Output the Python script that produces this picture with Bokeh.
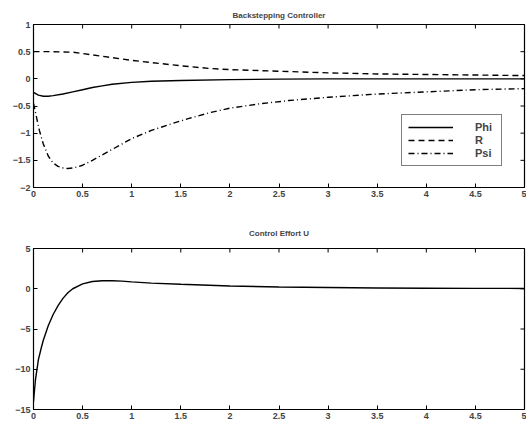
import math
from bokeh.plotting import figure
from bokeh.models import Legend, LegendItem, Range1d
from bokeh.layouts import column
from bokeh.embed import file_html
from bokeh.resources import INLINE

# ---- data ----
t_phi = [0, 0.05, 0.1, 0.15, 0.2, 0.3, 0.4, 0.5, 0.6, 0.7, 0.8, 1.0, 1.2, 1.5, 2.0, 2.5, 3.0, 4.0, 5.0]
phi = [-0.25, -0.3, -0.32, -0.32, -0.31, -0.28, -0.24, -0.2, -0.16, -0.13, -0.1, -0.065, -0.045, -0.03, -0.015, -0.005, 0.0, 0.0, 0.0]

t_r = [0, 0.2, 0.4, 0.6, 0.8, 1.0, 1.2, 1.5, 1.8, 2.0, 2.5, 3.0, 3.5, 4.0, 4.5, 5.0]
r = [0.5, 0.5, 0.49, 0.44, 0.39, 0.34, 0.3, 0.24, 0.19, 0.17, 0.14, 0.11, 0.09, 0.08, 0.07, 0.06]

t_psi = [0, 0.03, 0.06, 0.1, 0.15, 0.2, 0.25, 0.3, 0.35, 0.4, 0.45, 0.5, 0.6, 0.7, 0.8, 0.9,
         1.0, 1.2, 1.4, 1.6, 1.8, 2.0, 2.3, 2.6, 3.0, 3.5, 4.0, 4.5, 5.0]
psi = [-0.45, -0.7, -0.95, -1.2, -1.42, -1.55, -1.61, -1.64, -1.65, -1.64, -1.62, -1.59, -1.5, -1.4,
       -1.3, -1.2, -1.1, -0.95, -0.83, -0.72, -0.62, -0.54, -0.46, -0.4, -0.34, -0.28, -0.24, -0.2, -0.18]

t_u = [0, 0.02, 0.05, 0.08, 0.1, 0.15, 0.2, 0.25, 0.3, 0.35, 0.4, 0.5, 0.6, 0.7, 0.8, 0.9,
       1.0, 1.2, 1.5, 2.0, 2.5, 3.0, 3.5, 4.0, 4.5, 5.0]
u = [-14, -11.3, -8.8, -7.3, -6.4, -4.6, -3.2, -2.1, -1.2, -0.5, 0.0, 0.6, 0.9, 1.0, 1.0, 0.95,
     0.85, 0.7, 0.55, 0.35, 0.22, 0.15, 0.1, 0.07, 0.05, 0.04]

x_ticks = [0, 0.5, 1, 1.5, 2, 2.5, 3, 3.5, 4, 4.5, 5]
y1_ticks = [-2, -1.5, -1, -0.5, 0, 0.5, 1]
y2_ticks = [-15, -10, -5, 0, 5]

FONT = "Liberation Sans"


def style(p, yticks, x1, y1, title_standoff):
    p.xaxis.ticker = x_ticks
    p.yaxis.ticker = yticks
    for ax in p.axis:
        ax.major_tick_in = 4
        ax.major_tick_out = 0
        ax.minor_tick_in = 0
        ax.minor_tick_out = 0
        ax.axis_line_color = None
        ax.major_tick_line_color = "black"
        ax.major_label_text_font = FONT
        ax.major_label_text_font_style = "bold"
        ax.major_label_text_font_size = "9px"
        ax.major_label_standoff = 3
    # mirrored inward ticks on the top and right edges
    p.ray(x=x_ticks, y=[y1] * len(x_ticks), length=4, length_units="screen",
          angle=-math.pi / 2, line_color="black", line_width=1)
    p.ray(x=[x1] * len(yticks), y=yticks, length=4, length_units="screen",
          angle=math.pi, line_color="black", line_width=1)
    p.xgrid.visible = False
    p.ygrid.visible = False
    p.outline_line_color = "black"
    p.outline_line_width = 1.2
    p.title.text_font = FONT
    p.title.text_font_style = "bold"
    p.title.text_font_size = "8px"
    p.title.align = "center"
    p.title.offset = 0
    p.title.standoff = title_standoff
    p.background_fill_color = "white"
    p.border_fill_color = "white"


p1 = figure(width=526, height=212, output_backend="svg", toolbar_location=None,
            x_range=Range1d(0, 5), y_range=Range1d(-2, 1),
            title="Backstepping Controller",
            min_border_left=33, min_border_right=2, min_border_top=24, min_border_bottom=25)
style(p1, y1_ticks, 5, 1, 10)
l_phi = p1.line(t_phi, phi, line_color="black", line_width=1.4)
l_r = p1.line(t_r, r, line_color="black", line_width=1.4, line_dash="6 4")
l_psi = p1.line(t_psi, psi, line_color="black", line_width=1.4, line_dash="6 3 1 3")

legend = Legend(items=[LegendItem(label="Phi", renderers=[l_phi]),
                       LegendItem(label="R", renderers=[l_r]),
                       LegendItem(label="Psi", renderers=[l_psi])],
                location=(368, 21))
legend.glyph_width = 45
legend.glyph_height = 12
legend.label_standoff = 22
legend.label_text_font = FONT
legend.label_text_font_style = "bold"
legend.label_text_font_size = "11px"
legend.label_height = 12
legend.spacing = 1
legend.padding = 6
legend.margin = 0
legend.border_line_color = "black"
legend.border_line_width = 1.2
legend.background_fill_alpha = 1
p1.add_layout(legend, "center")

p2 = figure(width=526, height=212, output_backend="svg", toolbar_location=None,
            x_range=Range1d(0, 5), y_range=Range1d(-15, 5),
            title="Control Effort U",
            min_border_left=33, min_border_right=2, min_border_top=36, min_border_bottom=15)
style(p2, y2_ticks, 5, 5, 22)
p2.line(t_u, u, line_color="black", line_width=1.4)

layout = column(p1, p2, spacing=0)
open("out.html", "w").write(file_html(layout, INLINE))
